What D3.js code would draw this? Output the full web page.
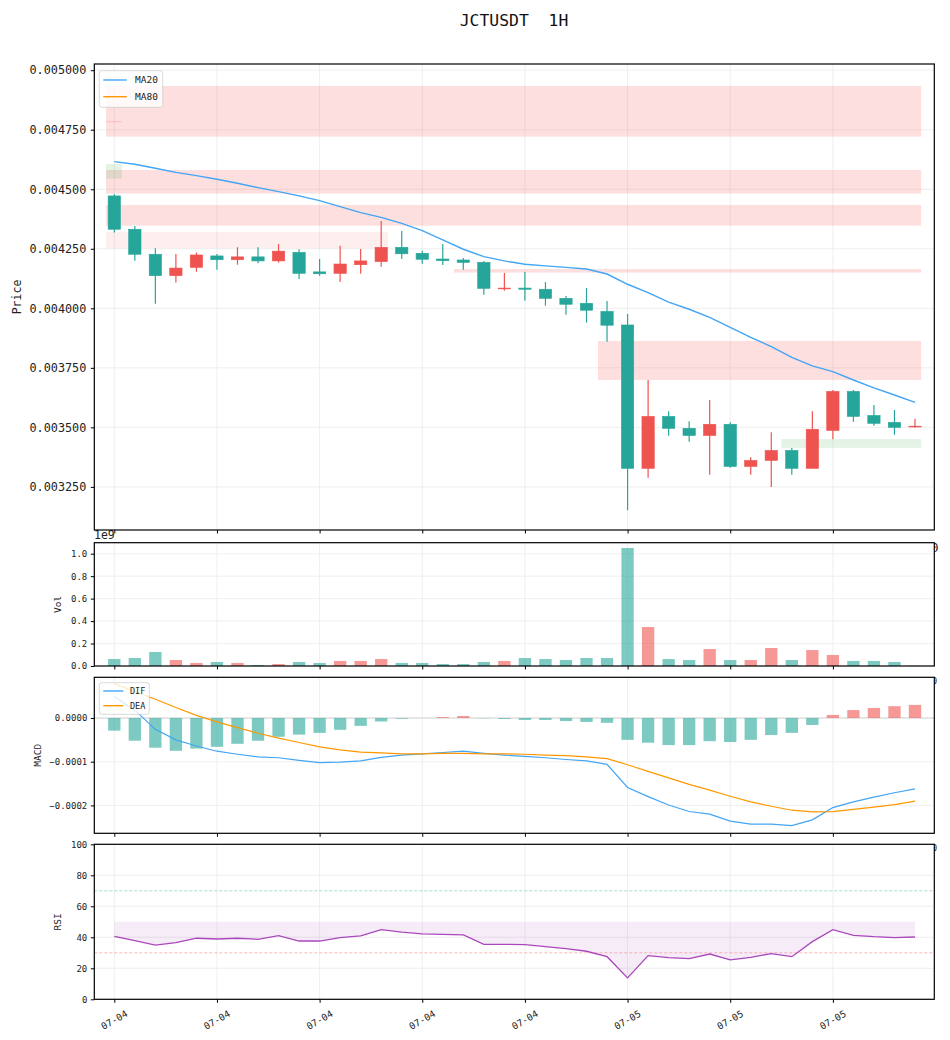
<!DOCTYPE html>
<html>
<head>
<meta charset="utf-8">
<script src="https://cdn.jsdelivr.net/npm/d3@7"></script>
<style>
    body { margin: 0; background: #fff; }
</style>
</head>
<body>
<div id="wrapper"></div>
<script>
// ---- data (40 hourly candles) ----
const candleOpen = [
    0.004472, 0.004332, 0.004227, 0.004137, 0.004172, 0.004220, 0.004204, 0.004216, 0.004199, 0.004235,
    0.004153, 0.004147, 0.004183, 0.004196, 0.004256, 0.004231, 0.004207, 0.004203, 0.004193, 0.004084,
    0.004085, 0.004080, 0.004042, 0.004021, 0.003987, 0.003930, 0.003328, 0.003546, 0.003496, 0.003466,
    0.003513, 0.003336, 0.003361, 0.003403, 0.003328, 0.003487, 0.003651, 0.003550, 0.003521, 0.003503,
];
const candleHigh = [
    0.004480, 0.004346, 0.004252, 0.004228, 0.004234, 0.004228, 0.004256, 0.004256, 0.004270, 0.004248,
    0.004207, 0.004263, 0.004249, 0.004367, 0.004325, 0.004242, 0.004270, 0.004211, 0.004199, 0.004148,
    0.004153, 0.004110, 0.004052, 0.004085, 0.004031, 0.003976, 0.003699, 0.003568, 0.003526, 0.003615,
    0.003521, 0.003375, 0.003480, 0.003413, 0.003568, 0.003657, 0.003657, 0.003594, 0.003573, 0.003536,
];
const candleLow = [
    0.004318, 0.004200, 0.004019, 0.004108, 0.004154, 0.004162, 0.004183, 0.004189, 0.004192, 0.004123,
    0.004137, 0.004110, 0.004145, 0.004175, 0.004207, 0.004187, 0.004182, 0.004162, 0.004057, 0.004074,
    0.004032, 0.004011, 0.003973, 0.003940, 0.003860, 0.003152, 0.003288, 0.003465, 0.003440, 0.003301,
    0.003330, 0.003301, 0.003250, 0.003301, 0.003328, 0.003450, 0.003524, 0.003507, 0.003469, 0.003498,
];
const candleClose = [
    0.004332, 0.004227, 0.004137, 0.004169, 0.004224, 0.004204, 0.004216, 0.004199, 0.004240, 0.004147,
    0.004145, 0.004186, 0.004199, 0.004256, 0.004229, 0.004206, 0.004200, 0.004193, 0.004084, 0.004085,
    0.004080, 0.004042, 0.004017, 0.003992, 0.003929, 0.003328, 0.003546, 0.003496, 0.003466, 0.003513,
    0.003336, 0.003361, 0.003403, 0.003328, 0.003492, 0.003651, 0.003546, 0.003517, 0.003500, 0.003505,
];
const ma20Values = [
    0.004616, 0.004605, 0.004588, 0.004571, 0.004557, 0.004542, 0.004525, 0.004507, 0.004490, 0.004472,
    0.004452, 0.004427, 0.004402, 0.004382, 0.004357, 0.004326, 0.004287, 0.004248, 0.004217, 0.004199,
    0.004185, 0.004178, 0.004172, 0.004165, 0.004144, 0.004101, 0.004066, 0.004026, 0.003996, 0.003962,
    0.003920, 0.003878, 0.003839, 0.003794, 0.003758, 0.003734, 0.003699, 0.003666, 0.003636, 0.003605,
];
const volumeValues = [
    0.062e9, 0.071e9, 0.125e9, 0.053e9, 0.027e9, 0.036e9, 0.027e9, 0.009e9, 0.018e9, 0.036e9,
    0.027e9, 0.045e9, 0.045e9, 0.062e9, 0.027e9, 0.027e9, 0.018e9, 0.018e9, 0.036e9, 0.045e9,
    0.071e9, 0.062e9, 0.053e9, 0.071e9, 0.071e9, 1.051e9, 0.347e9, 0.062e9, 0.053e9, 0.151e9,
    0.053e9, 0.053e9, 0.160e9, 0.053e9, 0.142e9, 0.098e9, 0.045e9, 0.045e9, 0.036e9, 0.002e9,
];
const macdDif = [
    0.49, 0.18, -0.26, -0.50, -0.64, -0.76, -0.83, -0.89, -0.91, -0.97,
    -1.02, -1.01, -0.98, -0.90, -0.85, -0.82, -0.79, -0.76, -0.81, -0.85,
    -0.88, -0.91, -0.95, -0.98, -1.06, -1.59, -1.80, -1.99, -2.14, -2.20,
    -2.36, -2.43, -2.43, -2.46, -2.33, -2.05, -1.92, -1.81, -1.71, -1.62,
].map(v => v * 1e-4);
const macdDea = [
    0.78, 0.61, 0.43, 0.24, 0.06, -0.09, -0.22, -0.35, -0.46, -0.56,
    -0.66, -0.73, -0.78, -0.80, -0.82, -0.82, -0.81, -0.81, -0.82, -0.82,
    -0.83, -0.85, -0.86, -0.89, -0.93, -1.07, -1.22, -1.37, -1.52, -1.65,
    -1.79, -1.92, -2.02, -2.11, -2.15, -2.14, -2.09, -2.04, -1.98, -1.90,
].map(v => v * 1e-4);
const macdHist = [
    -0.29, -0.52, -0.68, -0.75, -0.70, -0.66, -0.59, -0.52, -0.43, -0.38,
    -0.34, -0.27, -0.18, -0.08, -0.015, 0.0, 0.02, 0.045, -0.005, -0.02,
    -0.045, -0.045, -0.07, -0.09, -0.11, -0.50, -0.565, -0.62, -0.62, -0.53,
    -0.55, -0.50, -0.39, -0.34, -0.16, 0.07, 0.18, 0.23, 0.27, 0.30,
].map(v => v * 1e-4);
const rsiValues = [
    40.6, 37.8, 35.0, 36.6, 39.4, 38.9, 39.4, 38.7, 41.1, 37.6,
    37.6, 39.8, 40.9, 44.9, 43.4, 42.2, 41.9, 41.5, 35.5, 35.5,
    35.3, 34.0, 32.7, 31.0, 27.5, 13.8, 28.2, 26.9, 26.2, 29.2,
    25.4, 27.1, 29.5, 27.5, 37.2, 44.9, 41.3, 40.4, 39.8, 40.2,
];
const xTickIndex = [0, 5, 10, 15, 20, 25, 30, 35];
const xTickLabels = ["07-04", "07-04", "07-04", "07-04", "07-04", "07-05", "07-05", "07-05"];

// supply / demand zones: candle index span and price span
const zoneStart = [-0.4, -0.4, -0.4, -0.4, -0.4, -0.4, 16.54, 23.56, 32.5];
const zoneEnd = [39.3, 0.37, 39.3, 0.37, 39.3, 13.33, 39.3, 39.3, 39.3];
const zoneLow = [0.004721, 0.004781, 0.004482, 0.004545, 0.004347, 0.004252, 0.004150, 0.003699, 0.003414];
const zoneHigh = [0.004934, 0.004786, 0.004581, 0.004606, 0.004434, 0.004321, 0.004165, 0.003863, 0.003451];
const zoneKind = ["supply", "supply", "supply", "demand", "supply", "weak", "supply", "supply", "demand"];

// ---- style ----
const UP_COLOR = "#ef5350";
const DOWN_COLOR = "#26a69a";
const MA20_COLOR = "#42a5f5";
const MA80_COLOR = "#ff9800";
const RSI_COLOR = "#ab47bc";
const GRID_COLOR = "#ebebeb";
const FONT = "'DejaVu Sans Mono', monospace";
const ZONE_STYLE = {
    supply: { fill: UP_COLOR, opacity: 0.19 },
    weak: { fill: UP_COLOR, opacity: 0.09 },
    demand: { fill: "#4caf50", opacity: 0.15 },
};

const width = 950;
const height = 1040;
const left = 94.3;
const right = 934.3;

const panels = {
    price: { top: 64, bottom: 530 },
    vol: { top: 542.7, bottom: 666 },
    macd: { top: 677.3, bottom: 833.3 },
    rsi: { top: 844.3, bottom: 999.3 },
};

const indices = d3.range(candleOpen.length);
const isUp = i => candleClose[i] >= candleOpen[i];
const colorOf = i => isUp(i) ? UP_COLOR : DOWN_COLOR;

const svg = d3.select("#wrapper")
    .append("svg")
    .attr("width", width)
    .attr("height", height)
    .style("font-family", FONT);

svg.append("text")
    .attr("x", 514)
    .attr("y", 26)
    .attr("text-anchor", "middle")
    .style("font-size", "16.4px")
    .style("white-space", "pre")
    .attr("fill", "#111")
    .text("JCTUSDT  1H");

// stray clipped labels sitting behind the panels
const stray = [
    { x: 931, y: 552, size: 12.5, t: "0" },
    { x: 932, y: 684, size: 8.5, t: "0" },
    { x: 932, y: 851, size: 8.5, t: "0" },
];
svg.selectAll("text.stray")
    .data(stray)
    .enter().append("text")
    .attr("class", "stray")
    .attr("x", d => d.x)
    .attr("y", d => d.y)
    .style("font-size", d => d.size + "px")
    .attr("fill", "#222")
    .text(d => d.t);

svg.append("text")
    .attr("x", 94)
    .attr("y", 539)
    .style("font-size", "11.5px")
    .attr("fill", "#222")
    .text("1e9");

const xScale = d3.scaleLinear()
    .domain([-0.974, 39.94])
    .range([left, right]);

function makePanel(name, yDomain, yTicks, yFormat, label, labelX, tickFont) {
    const p = panels[name];
    const yScale = d3.scaleLinear().domain(yDomain).range([p.bottom, p.top]);
    const g = svg.append("g");

    g.append("rect")
        .attr("x", left).attr("y", p.top)
        .attr("width", right - left).attr("height", p.bottom - p.top)
        .attr("fill", "#fff");

    const clipId = "clip-" + name;
    svg.append("clipPath").attr("id", clipId)
        .append("rect")
        .attr("x", left).attr("y", p.top)
        .attr("width", right - left).attr("height", p.bottom - p.top);

    // grid
    g.append("g").selectAll("line")
        .data(xTickIndex)
        .enter().append("line")
        .attr("x1", d => xScale(d)).attr("x2", d => xScale(d))
        .attr("y1", p.top).attr("y2", p.bottom)
        .attr("stroke", GRID_COLOR).attr("stroke-width", 0.8);
    g.append("g").selectAll("line")
        .data(yTicks)
        .enter().append("line")
        .attr("x1", left).attr("x2", right)
        .attr("y1", d => yScale(d)).attr("y2", d => yScale(d))
        .attr("stroke", GRID_COLOR).attr("stroke-width", 0.8);

    const plot = g.append("g").attr("clip-path", `url(#${clipId})`);

    const yAxis = g.append("g")
        .attr("transform", `translate(${left},0)`)
        .call(d3.axisLeft(yScale).tickValues(yTicks).tickFormat(yFormat)
            .tickSize(3.5).tickPadding(tickFont > 10 ? 4.5 : 3.5));
    yAxis.select(".domain").remove();
    yAxis.selectAll("text").style("font-size", tickFont + "px")
        .style("font-family", FONT).attr("fill", "#222");

    const xAxis = g.append("g")
        .attr("transform", `translate(0,${p.bottom})`)
        .call(d3.axisBottom(xScale).tickValues(xTickIndex)
            .tickFormat(name === "rsi" ? "" : "").tickSize(3.5));
    xAxis.select(".domain").remove();

    g.append("text")
        .attr("transform", `translate(${labelX},${(p.top + p.bottom) / 2}) rotate(-90)`)
        .attr("text-anchor", "middle")
        .attr("dy", "0.35em")
        .style("font-size", (name === "price" ? 11.5 : 9.5) + "px")
        .attr("fill", "#222")
        .text(label);

    return { g, plot, yScale, p };
}

// ---- price panel ----
const price = makePanel("price", [0.003069, 0.005026],
    d3.range(0.00325, 0.0050001, 0.00025), d3.format(".6f"), "Price", 17, 11.8);

price.plot.append("g").selectAll("rect")
    .data(d3.range(zoneStart.length))
    .enter().append("rect")
    .attr("x", i => xScale(zoneStart[i]))
    .attr("width", i => xScale(zoneEnd[i]) - xScale(zoneStart[i]))
    .attr("y", i => price.yScale(zoneHigh[i]))
    .attr("height", i => Math.max(1, price.yScale(zoneLow[i]) - price.yScale(zoneHigh[i])))
    .attr("fill", i => ZONE_STYLE[zoneKind[i]].fill)
    .attr("fill-opacity", i => ZONE_STYLE[zoneKind[i]].opacity);

const BODY_WIDTH = 0.6;
const candles = price.plot.append("g").selectAll("g")
    .data(indices)
    .enter().append("g");

candles.append("line")
    .attr("x1", i => xScale(i)).attr("x2", i => xScale(i))
    .attr("y1", i => price.yScale(candleHigh[i]))
    .attr("y2", i => price.yScale(candleLow[i]))
    .attr("stroke", colorOf).attr("stroke-width", 1.2);

candles.append("rect")
    .attr("x", i => xScale(i - BODY_WIDTH / 2))
    .attr("width", xScale(BODY_WIDTH) - xScale(0))
    .attr("y", i => price.yScale(Math.max(candleOpen[i], candleClose[i])))
    .attr("height", i => Math.max(0.8, Math.abs(price.yScale(candleOpen[i]) - price.yScale(candleClose[i]))))
    .attr("fill", colorOf)
    .attr("stroke", colorOf).attr("stroke-width", 0.6);

price.plot.append("path")
    .datum(indices)
    .attr("fill", "none")
    .attr("stroke", MA20_COLOR)
    .attr("stroke-width", 1.4)
    .attr("d", d3.line().x(i => xScale(i)).y(i => price.yScale(ma20Values[i])));

function legend(g, x, y, w, h, items) {
    const lg = g.append("g").attr("transform", `translate(${x},${y})`);
    lg.append("rect").attr("width", w).attr("height", h).attr("rx", 2.5)
        .attr("fill", "#fff").attr("fill-opacity", 0.8)
        .attr("stroke", "#d0d0d0").attr("stroke-width", 0.8);
    items.forEach((it, k) => {
        const cy = it.y;
        lg.append("line").attr("x1", 4).attr("x2", 4 + it.len).attr("y1", cy).attr("y2", cy)
            .attr("stroke", it.color).attr("stroke-width", 1.4);
        lg.append("text").attr("x", it.tx).attr("y", cy).attr("dy", "0.35em")
            .style("font-size", it.size + "px").attr("fill", "#222").text(it.name);
    });
}

legend(price.g, 99.3, 70.7, 63.4, 36.6, [
    { name: "MA20", color: MA20_COLOR, y: 9.3, len: 23.4, tx: 35.7, size: 9.5 },
    { name: "MA80", color: MA80_COLOR, y: 26, len: 23.4, tx: 35.7, size: 9.5 },
]);

// ---- volume panel ----
const vol = makePanel("vol", [0, 1.098e9], d3.range(0, 1.0001e9, 0.2e9),
    d => d3.format(".1f")(d / 1e9), "Vol", 58, 9);

vol.plot.append("g").selectAll("rect")
    .data(indices)
    .enter().append("rect")
    .attr("x", i => xScale(i - BODY_WIDTH / 2))
    .attr("width", xScale(BODY_WIDTH) - xScale(0))
    .attr("y", i => vol.yScale(volumeValues[i]))
    .attr("height", i => vol.yScale(0) - vol.yScale(volumeValues[i]))
    .attr("fill", colorOf)
    .attr("fill-opacity", 0.6);

// ---- MACD panel ----
const macd = makePanel("macd", [-0.0002638, 0.0000931], [-0.0002, -0.0001, 0],
    d3.format(".4f"), "MACD", 38, 9);

macd.plot.append("line")
    .attr("x1", left).attr("x2", right)
    .attr("y1", macd.yScale(0)).attr("y2", macd.yScale(0))
    .attr("stroke", "#e0e0e0").attr("stroke-width", 1.4);

macd.plot.append("g").selectAll("rect")
    .data(indices)
    .enter().append("rect")
    .attr("x", i => xScale(i - BODY_WIDTH / 2))
    .attr("width", xScale(BODY_WIDTH) - xScale(0))
    .attr("y", i => macd.yScale(Math.max(0, macdHist[i])))
    .attr("height", i => Math.abs(macd.yScale(macdHist[i]) - macd.yScale(0)))
    .attr("fill", i => macdHist[i] >= 0 ? UP_COLOR : DOWN_COLOR)
    .attr("fill-opacity", 0.6);

macd.plot.append("path")
    .datum(indices)
    .attr("fill", "none").attr("stroke", MA20_COLOR).attr("stroke-width", 1.2)
    .attr("d", d3.line().x(i => xScale(i)).y(i => macd.yScale(macdDif[i])));

macd.plot.append("path")
    .datum(indices)
    .attr("fill", "none").attr("stroke", MA80_COLOR).attr("stroke-width", 1.2)
    .attr("d", d3.line().x(i => xScale(i)).y(i => macd.yScale(macdDea[i])));

legend(macd.g, 99.3, 682.7, 50, 31.6, [
    { name: "DIF", color: MA20_COLOR, y: 8.3, len: 20, tx: 30.7, size: 8.5 },
    { name: "DEA", color: MA80_COLOR, y: 23, len: 20, tx: 30.7, size: 8.5 },
]);

// ---- RSI panel ----
const rsi = makePanel("rsi", [0, 100], d3.range(0, 101, 20), d3.format("d"), "RSI", 58, 9);

rsi.plot.append("path")
    .datum(indices)
    .attr("fill", RSI_COLOR).attr("fill-opacity", 0.1)
    .attr("d", d3.area().x(i => xScale(i))
        .y0(rsi.yScale(50)).y1(i => rsi.yScale(rsiValues[i])));

[[70, DOWN_COLOR], [30, UP_COLOR]].forEach(([lvl, c]) => {
    rsi.plot.append("line")
        .attr("x1", left).attr("x2", right)
        .attr("y1", rsi.yScale(lvl)).attr("y2", rsi.yScale(lvl))
        .attr("stroke", c).attr("stroke-opacity", 0.5)
        .attr("stroke-width", 0.8).attr("stroke-dasharray", "3,2");
});

rsi.plot.append("path")
    .datum(indices)
    .attr("fill", "none").attr("stroke", RSI_COLOR).attr("stroke-width", 1.3)
    .attr("d", d3.line().x(i => xScale(i)).y(i => rsi.yScale(rsiValues[i])));

rsi.g.append("g").selectAll("text")
    .data(xTickIndex)
    .enter().append("text")
    .attr("transform", (d, k) => `translate(${xScale(d)},1020) rotate(-30)`)
    .attr("text-anchor", "middle")
    .attr("dy", "0.35em")
    .style("font-size", "9.5px")
    .attr("fill", "#222")
    .text((d, k) => xTickLabels[k]);

// frames on top
Object.values(panels).forEach(p => {
    svg.append("rect")
        .attr("x", left).attr("y", p.top)
        .attr("width", right - left).attr("height", p.bottom - p.top)
        .attr("fill", "none").attr("stroke", "#000").attr("stroke-width", 1.2);
});
</script>
</body>
</html>
